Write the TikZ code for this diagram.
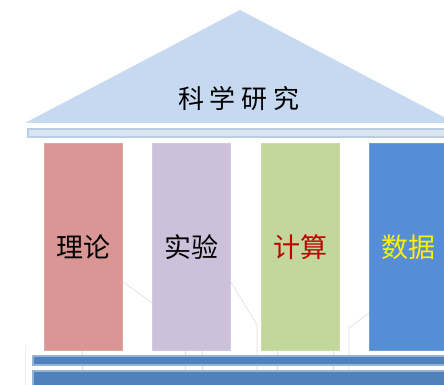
\documentclass[tikz,border=0pt]{standalone}
\usepackage{fontspec}
\newfontfamily\cjk{Noto Sans CJK SC}
\definecolor{roof}{HTML}{C6D9F1}
\definecolor{beamfill}{HTML}{DCE6F2}
\definecolor{beamline}{HTML}{B9CDE5}
\definecolor{colA}{HTML}{D99694}
\definecolor{colB}{HTML}{CCC1DA}
\definecolor{colC}{HTML}{C3D69B}
\definecolor{colD}{HTML}{558ED5}
\definecolor{stepfill}{HTML}{4F81BD}
\definecolor{stepline}{HTML}{95B3D7}
\definecolor{faint}{HTML}{DEDEDE}
\definecolor{redtxt}{HTML}{C00000}
\begin{document}
\begin{tikzpicture}[x=1pt,y=-1pt,
  pillar/.style={inner sep=0pt, minimum width=78pt, minimum height=207pt, anchor=north west},
  pillartext/.style={font=\cjk\fontsize{27}{27}\selectfont},
  steprect/.style={fill=stepfill, draw=stepline, line width=1.2pt},
  faintline/.style={draw=faint, line width=0.6pt}]
\useasboundingbox (0,0) rectangle (444,385);
\begin{scope}
\clip (0,0) rectangle (444,385);
% roof
\fill[roof] (240,10) -- (25,123) -- (455,123) -- cycle;
\node[font=\cjk\fontsize{26}{26}\selectfont, inner sep=0pt] (title) at (239,99)
  {科\hspace{6pt}学\hspace{6pt}研\hspace{6pt}究};
% beam
\draw[fill=beamfill, draw=beamline, line width=1.2pt] (28,129) rectangle (460,137);
% faint lines
\draw[faintline] (122,281) -- (152,303);
\draw[faintline] (231,282) -- (257,325) -- (257,370);
\draw[faintline] (369,313) -- (349,328) -- (349,370);
\foreach \xx in {82,185,202,277,333}
  \draw[faintline] (\xx,350) -- (\xx,370);
\draw[draw=faint!50!white, line width=0.5pt] (25,345) -- (25,385);
% steps
\draw[steprect] (33,356) rectangle (460,365);
\draw[steprect] (33,371) rectangle (460,390);
% pillars
\node[pillar, fill=colA, draw=colA!85!white] (p1) at (44,143) {};
\node[pillar, fill=colB, draw=colB!85!white] (p2) at (152,143) {};
\node[pillar, fill=colC, draw=colC!85!white] (p3) at (261,143) {};
\node[pillar, fill=colD, draw=colD!85!white] (p4) at (369,143) {};
\node[pillartext, text=black] (t1) at (83,247) {理论};
\node[pillartext, text=black] (t2) at (191,247) {实验};
\node[pillartext, text=redtxt] (t3) at (300,247) {计算};
\node[pillartext, text=yellow] (t4) at (408,247) {数据};
\end{scope}
\end{tikzpicture}
\end{document}
